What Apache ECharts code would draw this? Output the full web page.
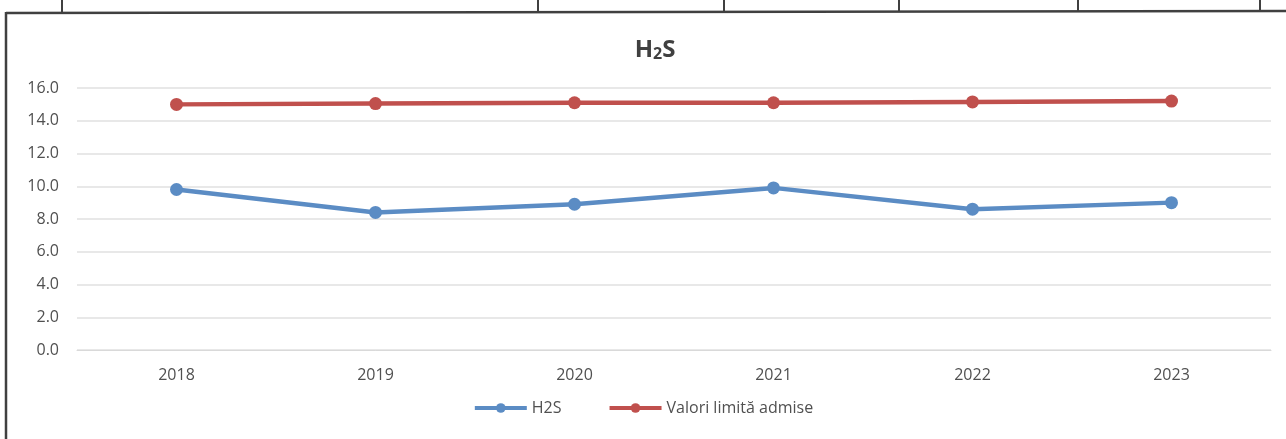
<!DOCTYPE html>
<html>
<head>
<meta charset="utf-8">
<script src="https://cdn.jsdelivr.net/npm/echarts@6/dist/echarts.min.js"></script>
<style>
html,body{margin:0;padding:0;background:#fff;}
#c{width:1286px;height:439px;}
</style>
</head>
<body>
<div id="c"></div>
<script>
const years = ['2018','2019','2020','2021','2022','2023'];
const h2s = [9.8, 8.4, 8.9, 9.9, 8.6, 9.0];
const limits = [15.0, 15.05, 15.1, 15.1, 15.15, 15.2];
const yTicks = { min: 0, max: 16, interval: 2 };

const font = 'Open Sans, Liberation Sans, sans-serif';
const chart = echarts.init(document.getElementById('c'));
chart.setOption({
  animation: false,
  backgroundColor: '#fff',
  title: {
    text: '{a|H}{b|2}{a|S}',
    left: 650,
    textAlign: 'center',
    top: 33,
    textStyle: {
      rich: {
        a: { fontFamily: font, fontSize: 24, fontWeight: 'bold', color: '#404040' },
        b: { fontFamily: font, fontSize: 16, fontWeight: 'bold', color: '#404040', verticalAlign: 'bottom', padding: [8,0,0,0] }
      }
    }
  },
  legend: {
    top: 395,
    left: 'center',
    itemWidth: 52,
    itemHeight: 12,
    itemGap: 46,
    lineStyle: { width: 4 },
    textStyle: { fontFamily: font, fontSize: 16, color: '#505050' },
    data: ['H2S', 'Valori limită admise']
  },
  grid: { left: 77, right: 15, top: 88, bottom: 89 },
  xAxis: {
    type: 'category',
    data: years,
    boundaryGap: true,
    axisLine: { show: true, lineStyle: { color: '#d9d9d9' } },
    axisTick: { show: false },
    axisLabel: { fontFamily: font, fontSize: 16, color: '#505050', margin: 17 }
  },
  yAxis: {
    type: 'value',
    min: yTicks.min,
    max: yTicks.max,
    interval: yTicks.interval,
    axisLine: { show: false },
    axisTick: { show: false },
    axisLabel: { fontFamily: font, fontSize: 16, color: '#505050', margin: 18, formatter: v => v.toFixed(1) },
    splitLine: { lineStyle: { color: '#e0e0e0', width: 1.5 } }
  },
  series: [
    {
      name: 'H2S', type: 'line', data: h2s,
      symbol: 'circle', symbolSize: 13,
      lineStyle: { width: 4.5, color: '#5b8cc4' },
      itemStyle: { color: '#5b8cc4' }
    },
    {
      name: 'Valori limită admise', type: 'line', data: limits,
      symbol: 'circle', symbolSize: 13,
      lineStyle: { width: 4.5, color: '#c0504d' },
      itemStyle: { color: '#c0504d' }
    }
  ],
  graphic: [
    { type: 'line', shape: { x1: 6, y1: 13, x2: 1286, y2: 11 }, style: { stroke: '#404040', lineWidth: 2.5 } },
    { type: 'line', shape: { x1: 6, y1: 12, x2: 6, y2: 439 }, style: { stroke: '#404040', lineWidth: 2.5 } },
    { type: 'line', shape: { x1: 62, y1: 0, x2: 62, y2: 13 }, style: { stroke: '#404040', lineWidth: 2 } },
    { type: 'line', shape: { x1: 538, y1: 0, x2: 538, y2: 12 }, style: { stroke: '#404040', lineWidth: 2 } },
    { type: 'line', shape: { x1: 724, y1: 0, x2: 724, y2: 12 }, style: { stroke: '#404040', lineWidth: 2 } },
    { type: 'line', shape: { x1: 899, y1: 0, x2: 899, y2: 12 }, style: { stroke: '#404040', lineWidth: 2 } },
    { type: 'line', shape: { x1: 1078, y1: 0, x2: 1078, y2: 11 }, style: { stroke: '#404040', lineWidth: 2 } },
    { type: 'line', shape: { x1: 1260, y1: 0, x2: 1260, y2: 11 }, style: { stroke: '#404040', lineWidth: 2 } }
  ]
});
</script>
</body>
</html>
